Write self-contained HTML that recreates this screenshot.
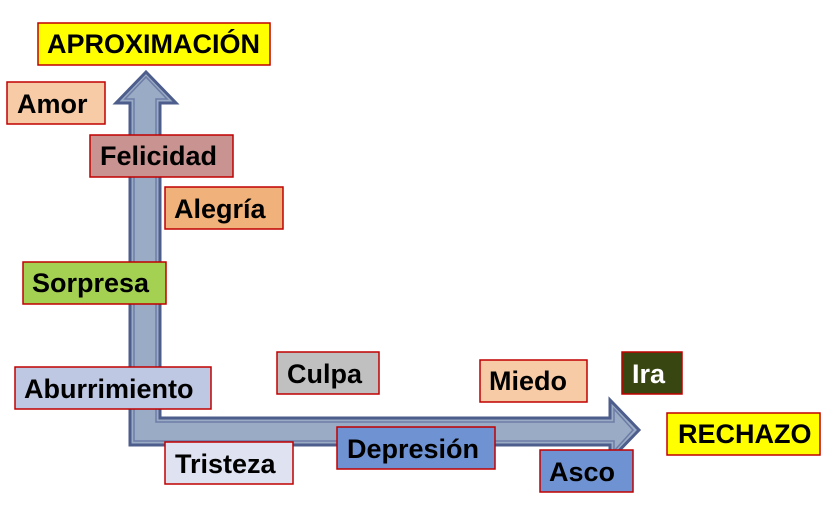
<!DOCTYPE html>
<html><head><meta charset="utf-8"><style>
html,body{margin:0;padding:0;background:#fff;}
svg{display:block}
text{font-family:"Liberation Sans",Arial,sans-serif;font-weight:bold;font-size:27px;}
</style></head><body>
<svg width="828" height="532" xmlns="http://www.w3.org/2000/svg">
<path d="M130,445 L130,103 L116,103 L146,72 L176,103 L160,103 L160,418 L610,418 L610,400 L639,430 L610,460 L610,445 Z" fill="#9aabc5" stroke="#4d5d8c" stroke-width="3" stroke-linejoin="miter"/>
<path d="M134,441 L134,99 L125,99 L146,77 L167,99 L156,99 L156,422 L614,422 L614,409 L633,430 L614,451 L614,441 Z" fill="none" stroke="#6c7ca6" stroke-width="1.5"/>
<g stroke="#c00000" stroke-width="1.5">
<rect x="38" y="23" width="232" height="42" fill="#ffff00"/>
<rect x="7" y="82" width="98" height="42" fill="#f6cba6"/>
<rect x="90" y="135" width="143" height="42" fill="#c89390"/>
<rect x="165" y="187" width="118" height="42" fill="#f0b27a"/>
<rect x="23" y="262" width="143" height="42" fill="#a5d152"/>
<rect x="15" y="367" width="196" height="42" fill="#bfc8e2"/>
<rect x="277" y="352" width="102" height="42" fill="#c0c0c0"/>
<rect x="480" y="360" width="107" height="42" fill="#f6cba6"/>
<rect x="622" y="352" width="60" height="42" fill="#384612"/>
<rect x="667" y="413" width="153" height="42" fill="#ffff00"/>
<rect x="165" y="442" width="128" height="42" fill="#dfe3f1"/>
<rect x="337" y="427" width="158" height="42" fill="#6f93d2"/>
<rect x="540" y="450" width="93" height="42" fill="#6f93d2"/>
</g>
<g fill="#000">
<text x="47" y="53">APROXIMACIÓN</text>
<text x="17" y="113">Amor</text>
<text x="100" y="165">Felicidad</text>
<text x="174" y="218">Alegría</text>
<text x="32" y="292">Sorpresa</text>
<text x="24" y="398">Aburrimiento</text>
<text x="287" y="383">Culpa</text>
<text x="489" y="390">Miedo</text>
<text x="632" y="383" fill="#fff">Ira</text>
<text x="678" y="443">RECHAZO</text>
<text x="175" y="473">Tristeza</text>
<text x="347" y="458">Depresión</text>
<text x="549" y="481">Asco</text>
</g>
</svg>
</body></html>
